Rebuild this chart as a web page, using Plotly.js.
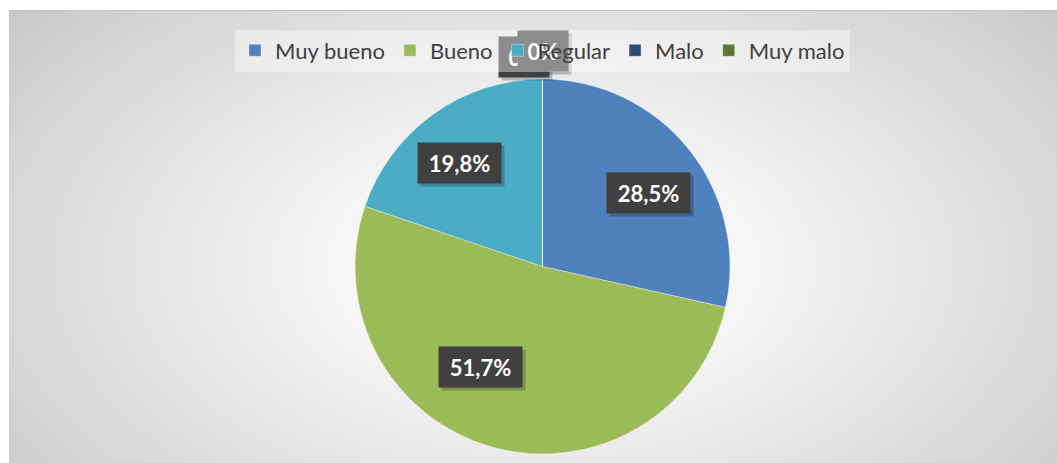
<!DOCTYPE html>
<html>
<head>
<meta charset="utf-8">
<script src="https://cdn.plot.ly/plotly-3.0.1.min.js"></script>
<style>
  html, body { margin:0; padding:0; background:#ffffff; width:1057px; height:463px; overflow:hidden; }
  #bg { position:absolute; left:9px; top:10px; width:1048px; height:453px;
        border-top:1px solid #c4c4c4;
        background: radial-gradient(ellipse 70% 95% at 51% 56%, #ffffff 0%, #f7f7f7 25%, #e0e0e0 60%, #c4c4c4 100%); }
  #chart { position:absolute; left:0; top:0; width:1057px; height:463px; }
  .legendpie path { transform-box: fill-box; transform-origin: center; scale: 1.25; }
</style>
</head>
<body>
<div id="bg"></div>
<div id="chart"></div>
<script>
// ---- data ----
const categories = ['Muy bueno', 'Bueno', 'Regular', 'Malo', 'Muy malo'];
const values = [28.5, 51.7, 19.8, 0, 0];
const labelTexts = ['28,5%', '51,7%', '19,8%', '0%', '0%'];

// ---- style ----
const colors = ['#4f81bd', '#9bbb59', '#4bacc6', '#2c4d75', '#5f7530'];
const W = 1057, H = 463;
const domainX = [0.3359, 0.6906];
const domainY = [0.0194, 0.8294];
// label placement tweaks (Excel "best fit"): angle shift (deg), radius factor
const labelAngleShift = [4, 16, -3, -5, 0];
const labelRadius = [0.69, 0.63, 0.71, 1.12, 1.15];

const cx = (domainX[0] + domainX[1]) / 2 * W;
const cy = (1 - (domainY[0] + domainY[1]) / 2) * H;
const R = Math.min((domainX[1] - domainX[0]) * W, (domainY[1] - domainY[0]) * H) / 2;
const total = values.reduce((a, b) => a + b, 0);

const annotations = [];
const shadows = [];
let cum = 0;
values.forEach((v, i) => {
  const mid = (cum + v / 2) / total * 360 + labelAngleShift[i];
  cum += v;
  const a = mid * Math.PI / 180;
  const px = cx + Math.sin(a) * R * labelRadius[i];
  const py = cy - Math.cos(a) * R * labelRadius[i];
  const base = {
    xref: 'paper', yref: 'paper', x: px / W, y: 1 - py / H,
    xanchor: 'center', yanchor: 'middle', showarrow: false,
    width: i < 3 ? 73 : 40, height: 30, borderpad: 5,
    font: { family: 'Lato, "Open Sans", sans-serif', size: 22, color: '#ffffff', weight: 'bold' }
  };
  shadows.push(Object.assign({}, base, {
    text: ' ', xshift: 3, yshift: -3, bgcolor: 'rgba(0,0,0,0.22)'
  }));
  annotations.push(Object.assign({}, base, { text: labelTexts[i], bgcolor: '#404040' }));
});

const trace = {
  type: 'pie',
  labels: categories,
  values: values,
  sort: false,
  direction: 'clockwise',
  rotation: 0,
  textinfo: 'none',
  hoverinfo: 'label+percent',
  marker: { colors: colors, line: { color: 'rgba(255,255,255,0.6)', width: 0.6 } },
  domain: { x: domainX, y: domainY },
  showlegend: true
};

const layout = {
  width: W, height: H,
  margin: { l: 0, r: 0, t: 0, b: 0 },
  paper_bgcolor: 'rgba(0,0,0,0)',
  plot_bgcolor: 'rgba(0,0,0,0)',
  separators: ',.',
  showlegend: true,
  legend: {
    orientation: 'h', x: cx / W, xanchor: 'center', y: 1 - 50.5 / H, yanchor: 'middle',
    bgcolor: 'rgba(255,255,255,0.4)', borderwidth: 0,
    font: { family: 'Lato, "Open Sans", sans-serif', size: 22, color: '#404040' },
    traceorder: 'normal', itemclick: false
  },
  annotations: shadows.concat(annotations)
};

Plotly.newPlot('chart', [trace], layout, { displayModeBar: false, staticPlot: true }).then(() => {
  // draw the legend above the data labels, as in the reference
  const leg = document.querySelector('#chart g.legend');
  if (leg && leg.parentNode) leg.parentNode.appendChild(leg);
});
</script>
</body>
</html>
